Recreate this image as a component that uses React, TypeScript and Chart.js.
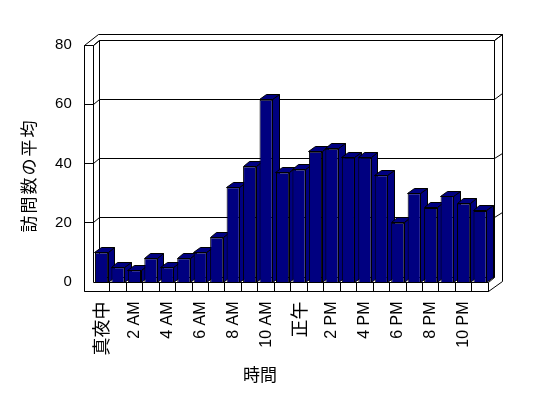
import React, { useEffect, useRef } from 'react';
import { Chart, registerables } from 'chart.js';

Chart.register(...registerables);

// ---- data ----
const hours = [
  '真夜中', '1 AM', '2 AM', '3 AM', '4 AM', '5 AM', '6 AM', '7 AM', '8 AM', '9 AM', '10 AM', '11 AM',
  '正午', '1 PM', '2 PM', '3 PM', '4 PM', '5 PM', '6 PM', '7 PM', '8 PM', '9 PM', '10 PM', '11 PM',
];
const visits = [10, 5, 4, 8, 5, 8, 10, 15, 32, 39, 61.5, 37, 38, 44, 45, 42, 42, 36, 20, 30, 25, 29, 26.5, 24];
const yTickValues = [0, 20, 40, 60, 80];
const yTitle = '訪問数の平均';
const xTitle = '時間';

// ---- style ----
const NAVY = '#000080';
const CJK = '"Noto Sans CJK JP", sans-serif';
const LATIN = '"Liberation Sans", Arial, sans-serif';
const DX = 6.5, DY = 5;   // bar / wall depth
const WT = 8.5;           // left wall thickness
const FT = 9.5;           // floor thickness
const BX = 7.5, BY = 5.5; // back wall thickness

const s = (v: number) => Math.floor(v) + 0.5;

function poly(ctx: CanvasRenderingContext2D, pts: number[][], fill?: string) {
  ctx.beginPath();
  pts.forEach(([x, y], i) => (i ? ctx.lineTo(s(x), s(y)) : ctx.moveTo(s(x), s(y))));
  if (fill) {
    ctx.closePath();
    ctx.fillStyle = fill;
    ctx.fill();
  }
  ctx.stroke();
}

const excel3d = {
  id: 'excel3d',
  beforeDatasetsDraw(chart: any) {
    const ctx: CanvasRenderingContext2D = chart.ctx;
    const { left: L, right: R, top: T, bottom: B } = chart.chartArea;
    const ys = chart.scales.y;
    const n = hours.length;
    const w = (R - L) / n;
    ctx.save();
    ctx.lineWidth = 1;
    ctx.strokeStyle = '#000';
    // outer outline
    poly(ctx, [
      [L - WT, B + FT], [L - WT, T], [L - WT + DX + BX, T - DY - BY],
      [R + DX + BX, T - DY - BY], [R + DX + BX, B + FT - DY - BY], [R, B + FT],
    ], '#fff');
    // inner edges
    poly(ctx, [[L - WT, T], [L, T], [L + DX, T - DY], [R + DX, T - DY], [R + DX + BX, T - DY - BY]]);
    poly(ctx, [[L, T], [L, B]]);
    poly(ctx, [[L + DX, T - DY], [L + DX, B - DY]]);
    poly(ctx, [[R + DX, T - DY], [R + DX, B - DY]]);
    poly(ctx, [[L + DX, B - DY], [R + DX, B - DY], [R, B]]);
    poly(ctx, [[L - WT, B + FT], [R, B + FT]]);
    poly(ctx, [[L, B], [R, B], [R, B + FT]]);
    // gridlines
    yTickValues.forEach((v) => {
      if (v === 0) return;
      const y = ys.getPixelForValue(v);
      poly(ctx, [[L - WT, y], [L, y], [L + DX, y - DY], [R + DX, y - DY], [R + DX + BX, y - DY - BY]]);
    });
    // category dividers on floor front
    for (let k = 1; k < n; k++) {
      const x = L + k * w;
      poly(ctx, [[x, B], [x, B + FT]]);
    }
    // bar sides and tops
    const meta = chart.getDatasetMeta(0);
    meta.data.forEach((bar: any) => {
      const { x, y, base, width } = bar.getProps(['x', 'y', 'base', 'width'], true);
      const l = x - width / 2;
      const r = x + width / 2;
      poly(ctx, [[r, y], [r + DX, y - DY], [r + DX, base - DY], [r, base]], NAVY);
      poly(ctx, [[l, y], [r, y], [r + DX, y - DY], [l + DX, y - DY]], NAVY);
    });
    ctx.restore();
  },
  afterDraw(chart: any) {
    const ctx: CanvasRenderingContext2D = chart.ctx;
    ctx.save();
    ctx.fillStyle = '#000';
    ctx.textAlign = 'center';
    ctx.textBaseline = 'middle';
    ctx.font = `17px ${CJK}`;
    ctx.fillText(xTitle, 260, 375);
    ctx.translate(28.5, 176.5);
    ctx.rotate(-Math.PI / 2);
    (ctx as any).letterSpacing = '2px';
    ctx.fillText(yTitle, 1, 0);
    ctx.restore();
  },
};

export default function App() {
  const ref = useRef<HTMLCanvasElement>(null);
  useEffect(() => {
    const L = 93.3;
    const Rr = 488.3;
    const T = 45;
    const B = 282;
    const chart = new Chart(ref.current!, {
      type: 'bar',
      data: {
        labels: hours,
        datasets: [
          {
            data: visits,
            backgroundColor: NAVY,
            borderColor: '#000',
            borderWidth: 1,
            barPercentage: 0.8,
            categoryPercentage: 1,
          },
        ],
      },
      options: {
        responsive: false,
        animation: false,
        devicePixelRatio: 1,
        layout: { padding: { top: T, right: 548 - Rr, left: 0, bottom: 0 } },
        plugins: { legend: { display: false }, tooltip: { enabled: false } },
        scales: {
          x: {
            grid: { display: false, drawTicks: false },
            border: { display: false },
            afterFit: (sc: any) => { sc.height = 398 - B; },
            ticks: {
              autoSkip: false,
              minRotation: 90,
              maxRotation: 90,
              padding: 19.5,
              color: '#000',
              font: (c: any) => (c.index === 0 || c.index === 12
                ? { family: CJK, size: 18 }
                : { family: LATIN, size: 16 }),
              callback: (_v: any, i: number) => (i % 2 === 0 ? hours[i] : ''),
            },
          },
          y: {
            min: 0,
            max: 80,
            grid: { display: false, drawTicks: false },
            border: { display: false },
            afterFit: (sc: any) => { sc.width = L; },
            afterBuildTicks: (sc: any) => { sc.ticks = yTickValues.map((v) => ({ value: v })); },
            ticks: {
              padding: 21.5,
              color: '#000',
              font: { family: LATIN, size: 15 },
            },
          },
        },
      },
      plugins: [excel3d],
    });
    return () => chart.destroy();
  }, []);
  return (
    <div style={{ position: 'fixed', left: 0, top: 0, width: 548, height: 398, background: '#fff' }}>
      <canvas ref={ref} width={548} height={398} style={{ display: 'block' }} />
    </div>
  );
}
